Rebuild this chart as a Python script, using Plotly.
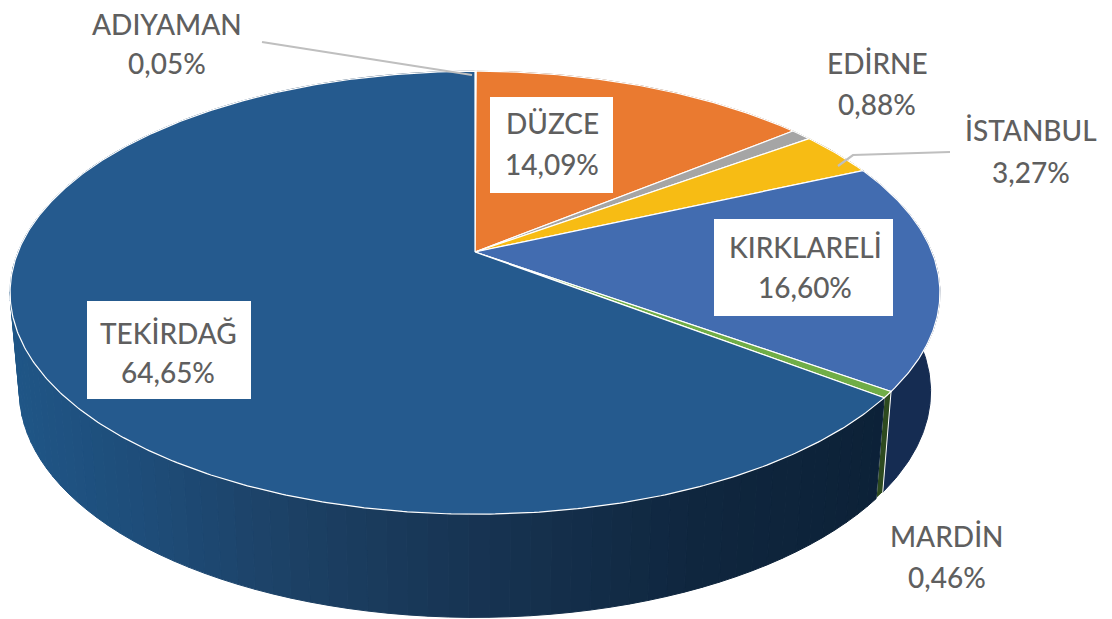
import math
import numpy as np
import plotly.graph_objects as go

provinces = ["ADIYAMAN", "DÜZCE", "EDİRNE", "İSTANBUL", "KIRKLARELİ", "MARDİN", "TEKİRDAĞ"]
shares = [0.05, 14.09, 0.88, 3.27, 16.60, 0.46, 64.65]
share_text = ["0,05%", "14,09%", "0,88%", "3,27%", "16,60%", "0,46%", "64,65%"]
top_colors = ["#5b9bd5", "#ea7a30", "#a5a5a5", "#f7bc14", "#426cb0", "#70ad47", "#255a8e"]
wall_colors = ["#1d4e7c", "#8a4a1d", "#606060", "#90700c", "#152c52", "#2d4a1f", None]

# picture geometry of the tilted disc
W, H = 1112, 619
AX, AY = 475, 252           # apex of the top face
A, B, K = 457, 214, 0.1837  # perspective terms
SX, SY, LOW_AX, LOW_AY = 0.98, 1.02, 475, 350  # bottom rim

def rim(theta_deg, ax=AX, ay=AY, sx=1.0, sy=1.0):
    t = np.radians(theta_deg)
    X, Y = np.sin(t), np.cos(t)
    d = 1 + K * Y
    return ax + sx * A * X / d, ay - sy * B * Y / d

edges = np.concatenate([[0], np.cumsum(shares)]) * 3.6

GRAD = [(10, (31, 86, 135)), (150, (30, 76, 120)), (300, (28, 64, 100)),
        (500, (22, 50, 80)), (700, (15, 38, 62)), (890, (12, 33, 55))]

def grad_color(x):
    xs = [g[0] for g in GRAD]
    c = [int(round(np.interp(x, xs, [g[1][i] for g in GRAD]))) for i in range(3)]
    return f"rgb({c[0]},{c[1]},{c[2]})"

fig = go.Figure()

def poly(xs, ys, fill, line=None, lw=1):
    fig.add_trace(go.Scatter(
        x=list(xs), y=list(ys), mode="lines", fill="toself", fillcolor=fill,
        line=dict(color=line or fill, width=lw), hoverinfo="skip", showlegend=False))

# side wall
for i in range(len(shares)):
    a0, a1 = edges[i], edges[i + 1]
    if wall_colors[i] is not None:
        th = np.linspace(a0, a1, max(3, int((a1 - a0) * 2)))
        ux, uy = rim(th)
        lx, ly = rim(th, LOW_AX, LOW_AY, SX, SY)
        outline = "#ffffff" if provinces[i] == "MARDİN" else None
        poly(np.r_[ux, lx[::-1], ux[0]], np.r_[uy, ly[::-1], uy[0]],
             wall_colors[i], outline, 1)
    else:
        steps = np.linspace(a0, a1, 110)
        for p, q in zip(steps[:-1], steps[1:]):
            ux, uy = rim(np.array([p, q]))
            lx, ly = rim(np.array([p, q]), LOW_AX, LOW_AY, SX, SY)
            col = grad_color(float((ux.mean() + lx.mean()) / 2))
            poly(np.r_[ux, lx[::-1], ux[0]], np.r_[uy, ly[::-1], uy[0]], col)

# white rim between wall and top is drawn by the wedge outlines
for i in range(len(shares)):
    a0, a1 = edges[i], edges[i + 1]
    th = np.linspace(a0, a1, max(3, int((a1 - a0) * 2)))
    x, y = rim(th)
    poly(np.r_[AX, x, AX], np.r_[AY, y, AY], top_colors[i], "#ffffff", 1.2)

# leader lines
LEADER = "#bfbfbf"
for xs, ys in [([262, 400, 472], [42, 64, 75]), ([838, 853, 950], [166, 155, 152])]:
    fig.add_trace(go.Scatter(x=xs, y=ys, mode="lines", line=dict(color=LEADER, width=2.2),
                             hoverinfo="skip", showlegend=False))

label_pos = {
    "ADIYAMAN": (167, 24, 63), "DÜZCE": (552, 123, 164), "EDİRNE": (877, 63, 104),
    "İSTANBUL": (1031, 130, 172), "KIRKLARELİ": (805, 247, 287),
    "MARDİN": (947, 536, 577), "TEKİRDAĞ": (168, 333, 372),
}
boxes = {"DÜZCE": (490, 97, 613, 193), "KIRKLARELİ": (714, 219, 893, 316), "TEKİRDAĞ": (87, 301, 251, 399)}
shapes = [dict(type="rect", x0=b[0], y0=b[1], x1=b[2], y1=b[3], fillcolor="#ffffff",
               line=dict(width=0), layer="above", xref="x", yref="y") for b in boxes.values()]

ann = []
FONT = dict(family="Lato, Liberation Sans, sans-serif", size=28, color="#5f5f5f", weight=500)
for name, txt in zip(provinces, share_text):
    cx, y1, y2 = label_pos[name]
    ann.append(dict(x=cx, y=y1, text=name, showarrow=False, font=FONT, xanchor="center", yanchor="middle"))
    ann.append(dict(x=cx, y=y2, text=txt, showarrow=False, font=FONT, xanchor="center", yanchor="middle"))

fig.update_layout(
    width=W, height=H, margin=dict(l=0, r=0, t=0, b=0),
    paper_bgcolor="#ffffff", plot_bgcolor="#ffffff", showlegend=False,
    xaxis=dict(range=[0, W], visible=False, fixedrange=True),
    yaxis=dict(range=[H, 0], visible=False, fixedrange=True),
    shapes=shapes, annotations=ann,
)
fig.write_html("out.html", config={"displayModeBar": False},
               post_script="document.body.style.margin='0';")
